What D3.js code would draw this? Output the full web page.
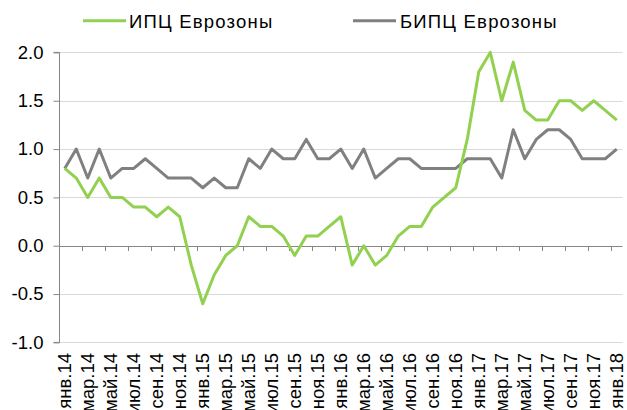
<!DOCTYPE html>
<html><head><meta charset="utf-8">
<script src="https://cdn.jsdelivr.net/npm/d3@7"></script>
<style>body{margin:0;background:#fff}svg{display:block;font-family:"Liberation Sans",Arial,sans-serif}</style>
</head><body><svg id="c" width="627" height="410"></svg>
<script>
const months = ["янв","фев","мар","апр","май","июн","июл","авг","сен","окт","ноя","дек"];
const categories = [];
for (const yr of ["14","15","16","17"]) for (const m of months) categories.push(m + "." + yr);
categories.push("янв.18");

const cpi = [0.8,0.7,0.5,0.7,0.5,0.5,0.4,0.4,0.3,0.4,0.3,-0.2,
  -0.6,-0.3,-0.1,0.0,0.3,0.2,0.2,0.1,-0.1,0.1,0.1,0.2,
  0.3,-0.2,0.0,-0.2,-0.1,0.1,0.2,0.2,0.4,0.5,0.6,1.1,
  1.8,2.0,1.5,1.9,1.4,1.3,1.3,1.5,1.5,1.4,1.5,1.4,
  1.3];
const core = [0.8,1.0,0.7,1.0,0.7,0.8,0.8,0.9,0.8,0.7,0.7,0.7,
  0.6,0.7,0.6,0.6,0.9,0.8,1.0,0.9,0.9,1.1,0.9,0.9,
  1.0,0.8,1.0,0.7,0.8,0.9,0.9,0.8,0.8,0.8,0.8,0.9,
  0.9,0.9,0.7,1.2,0.9,1.1,1.2,1.2,1.1,0.9,0.9,0.9,
  1.0];
const seriesNames = ["ИПЦ Еврозоны","БИПЦ Еврозоны"];
const yTicks = [-1.0,-0.5,0.0,0.5,1.0,1.5,2.0];

const svg = d3.select("#c");
const x = d3.scaleBand().domain(categories).range([59, 622.5]).padding(0);
const y = d3.scaleLinear().domain([-1, 2]).range([342.4, 52.4]);

// gridlines
svg.append("g").selectAll("line").data(yTicks.filter(v => v !== 0)).join("line")
  .attr("x1", 59).attr("x2", 622.5)
  .attr("y1", d => Math.round(y(d)) + 0.5).attr("y2", d => Math.round(y(d)) + 0.5)
  .attr("stroke", "#d9d9d9").attr("stroke-width", 1);

// y axis
const yAxis = d3.axisLeft(y).tickValues(yTicks).tickFormat(d => d.toFixed(1)).tickSize(6).tickPadding(10);
const gy = svg.append("g").attr("transform", "translate(59.5,0)").call(yAxis);
gy.select(".domain").attr("stroke", "#868686").attr("d", `M-6,${y(2)}H0V${y(-1)}H-6`);
gy.selectAll(".tick line").attr("stroke", "#868686");
gy.selectAll(".tick text").attr("font-size", "18.5px").attr("fill", "#000").attr("font-family", "Liberation Sans, Arial, sans-serif");

// x axis at zero
const xAxisG = svg.append("g");
xAxisG.append("line").attr("x1", 59).attr("x2", 622.5)
  .attr("y1", Math.round(y(0)) + 0.5).attr("y2", Math.round(y(0)) + 0.5)
  .attr("stroke", "#868686");
const tickCats = categories.filter((d, i) => i % 2 === 0 && i > 0);
xAxisG.selectAll("line.t").data(tickCats).join("line").attr("class", "t")
  .attr("x1", d => Math.round(x(d)) + 0.5).attr("x2", d => Math.round(x(d)) + 0.5)
  .attr("y1", Math.round(y(0))).attr("y2", Math.round(y(0)) + 5)
  .attr("stroke", "#868686");

// x labels
svg.append("g").selectAll("text").data(categories.filter((d, i) => i % 2 === 0)).join("text")
  .attr("transform", d => `translate(${x(d) + x.bandwidth() / 2 + 6},353) rotate(-90)`)
  .attr("text-anchor", "end").attr("font-size", "18.5px").attr("fill", "#000")
  .text(d => d);

// lines
const line = d3.line().x((d, i) => x(categories[i]) + x.bandwidth() / 2).y(d => y(d));
svg.append("path").datum(core).attr("d", line).attr("fill", "none")
  .attr("stroke", "#808080").attr("stroke-width", 3).attr("stroke-linejoin", "round");
svg.append("path").datum(cpi).attr("d", line).attr("fill", "none")
  .attr("stroke", "#92d050").attr("stroke-width", 3).attr("stroke-linejoin", "round");

// legend
const legend = [{name: seriesNames[0], color: "#92d050", x0: 83, tx: 129},
                {name: seriesNames[1], color: "#808080", x0: 353, tx: 400}];
const lg = svg.append("g").selectAll("g").data(legend).join("g");
lg.append("line").attr("x1", d => d.x0).attr("x2", d => d.x0 + 43).attr("y1", 20.7).attr("y2", 20.7)
  .attr("stroke", d => d.color).attr("stroke-width", 3);
lg.append("text").attr("x", d => d.tx).attr("y", 27.7).attr("font-size", "18.5px").attr("fill", "#000")
  .attr("letter-spacing", "1.2px").text(d => d.name);
</script>
</body></html>
